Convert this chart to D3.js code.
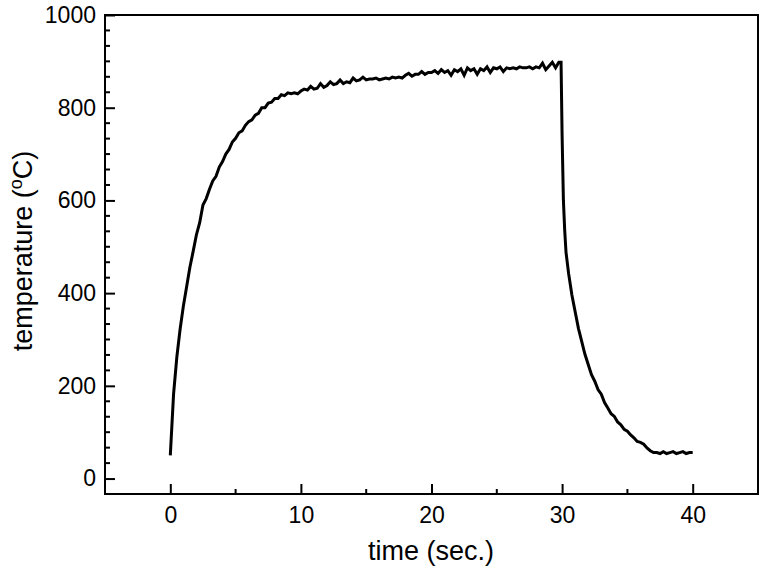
<!DOCTYPE html>
<html>
<head>
<meta charset="utf-8">
<script src="https://cdn.jsdelivr.net/npm/d3@7"></script>
<style>
  html, body { margin: 0; padding: 0; background: #fff; }
  svg { display: block; }
  text { font-family: "Liberation Sans", Arial, Helvetica, sans-serif; fill: #000; }
</style>
</head>
<body>
<svg id="chart" width="763" height="570"></svg>
<script>
// ---- data ----
const timeSec = [
  0, 0.25, 0.5, 0.75, 1.0, 1.25, 1.5, 1.75, 2.0, 2.25, 2.5, 2.75, 3.0, 3.25, 3.5, 3.75,
  4.0, 4.25, 4.5, 4.75, 5.0, 5.25, 5.5, 5.75, 6.0, 6.25, 6.5, 6.75, 7.0, 7.25, 7.5, 7.75,
  8.0, 8.25, 8.5, 8.75, 9.0, 9.25, 9.5, 9.75, 10.0, 10.25, 10.5, 10.75, 11.0, 11.25, 11.5, 11.75,
  12.0, 12.25, 12.5, 12.75, 13.0, 13.25, 13.5, 13.75, 14.0, 14.25, 14.5, 14.75, 15.0, 15.25, 15.5, 15.75,
  16.0, 16.25, 16.5, 16.75, 17.0, 17.25, 17.5, 17.75, 18.0, 18.25, 18.5, 18.75, 19.0, 19.25, 19.5, 19.75,
  20.0, 20.25, 20.5, 20.75, 21.0, 21.25, 21.5, 21.75, 22.0, 22.25, 22.5, 22.75, 23.0, 23.25, 23.5, 23.75,
  24.0, 24.25, 24.5, 24.75, 25.0, 25.25, 25.5, 25.75, 26.0, 26.25, 26.5, 26.75, 27.0, 27.25, 27.5, 27.75,
  28.0, 28.25, 28.5, 28.75, 29.0, 29.25, 29.5, 29.75, 29.92,
  30.0, 30.1, 30.2, 30.3, 30.5, 30.75, 31.0, 31.25, 31.5, 31.75, 32.0, 32.25, 32.5, 32.75,
  33.0, 33.25, 33.5, 33.75, 34.0, 34.25, 34.5, 34.75, 35.0, 35.25, 35.5, 35.75, 36.0, 36.25, 36.5, 36.75,
  37.0, 37.25, 37.5, 37.75, 38.0, 38.25, 38.5, 38.75, 39.0, 39.25, 39.5, 39.75, 40.0
];
const temperatureC = [
  50, 182, 262, 322, 372, 414, 456, 490, 526, 552, 590, 604, 624, 642, 652, 672,
  684, 700, 710, 726, 734, 746, 750, 762, 770, 774, 784, 788, 800, 800, 810, 812,
  820, 820, 828, 826, 832, 830, 832, 830, 836, 840, 838, 846, 840, 842, 852, 844,
  848, 856, 850, 852, 860, 852, 856, 854, 864, 858, 860, 866, 860, 862, 862, 864,
  860, 862, 864, 862, 866, 864, 866, 864, 870, 874, 868, 872, 872, 878, 872, 876,
  876, 880, 874, 882, 876, 880, 870, 882, 878, 884, 870, 886, 880, 884, 872, 884,
  880, 888, 876, 886, 884, 888, 878, 886, 884, 886, 884, 888, 886, 886, 888, 884,
  888, 886, 896, 882, 890, 898, 886, 898, 898,
  740, 600, 535, 488, 442, 396, 360, 324, 296, 268, 246, 224, 210, 192,
  182, 164, 152, 140, 134, 122, 116, 106, 102, 94, 88, 80, 78, 74, 66, 60,
  56, 56, 54, 58, 54, 56, 58, 54, 56, 58, 54, 56, 56
];
const xTicks = [0, 10, 20, 30, 40];
const yTicks = [0, 200, 400, 600, 800, 1000];
const xLabel = "time (sec.)";
const yLabel = "temperature (";
const yLabelSup = "o";
const yLabelEnd = "C)";

// ---- layout ----
const svg = d3.select("#chart");
const mLeft = 105, mRight = 758, mTop = 15, mBottom = 494;

const x = d3.scaleLinear().domain([-5, 45]).range([mLeft, mRight]);
const y = d3.scaleLinear().domain([-1000 / 30, 1000]).range([mBottom, mTop]);

// minor tick values
const xMinor = [5, 15, 25, 35];
const yMinor = d3.range(1, 30).map(k => k * 200 / 6).filter(v => Math.abs(v / 200 - Math.round(v / 200)) > 1e-6);

// frame
svg.append("rect")
  .attr("x", mLeft).attr("y", mTop)
  .attr("width", mRight - mLeft).attr("height", mBottom - mTop)
  .attr("fill", "none").attr("stroke", "#000").attr("stroke-width", 2);

// bottom axis (ticks pointing inward)
const gx = svg.append("g").attr("transform", `translate(0,${mBottom})`);
gx.call(d3.axisBottom(x).tickValues(xTicks).tickSize(-10).tickPadding(13).tickFormat(d3.format("d")));
gx.select(".domain").remove();
gx.selectAll(".tick line").attr("stroke-width", 2);
gx.selectAll(".tick text").attr("font-size", 23).attr("font-family", "Liberation Sans, Arial, sans-serif");
gx.selectAll(".minor").data(xMinor).enter().append("line")
  .attr("class", "minor")
  .attr("x1", d => x(d)).attr("x2", d => x(d))
  .attr("y1", 0).attr("y2", -5)
  .attr("stroke", "#000").attr("stroke-width", 2);

// left axis
const gy = svg.append("g").attr("transform", `translate(${mLeft},0)`);
gy.call(d3.axisLeft(y).tickValues(yTicks).tickSize(-10).tickPadding(9).tickFormat(d3.format("d")));
gy.select(".domain").remove();
gy.selectAll(".tick line").attr("stroke-width", 2);
gy.selectAll(".tick text").attr("font-size", 23).attr("font-family", "Liberation Sans, Arial, sans-serif");
gy.selectAll(".minor").data(yMinor).enter().append("line")
  .attr("class", "minor")
  .attr("x1", 0).attr("x2", 5)
  .attr("y1", d => y(d)).attr("y2", d => y(d))
  .attr("stroke", "#000").attr("stroke-width", 2);

// data line
const pts = timeSec.map((t, i) => [t, temperatureC[i]]);
svg.append("path")
  .datum(pts)
  .attr("fill", "none")
  .attr("stroke", "#000")
  .attr("stroke-width", 3)
  .attr("stroke-linejoin", "miter")
  .attr("d", d3.line().x(d => x(d[0])).y(d => y(d[1])));

// axis titles
svg.append("text")
  .attr("x", 431).attr("y", 560)
  .attr("text-anchor", "middle")
  .attr("font-size", 27)
  .text(xLabel);

const yt = svg.append("text")
  .attr("transform", "translate(32,251) rotate(-90)")
  .attr("text-anchor", "middle")
  .attr("font-size", 27);
yt.append("tspan").text(yLabel);
yt.append("tspan").attr("font-size", 18).attr("dy", -10).text(yLabelSup);
yt.append("tspan").attr("dy", 10).text(yLabelEnd);
</script>
</body>
</html>
